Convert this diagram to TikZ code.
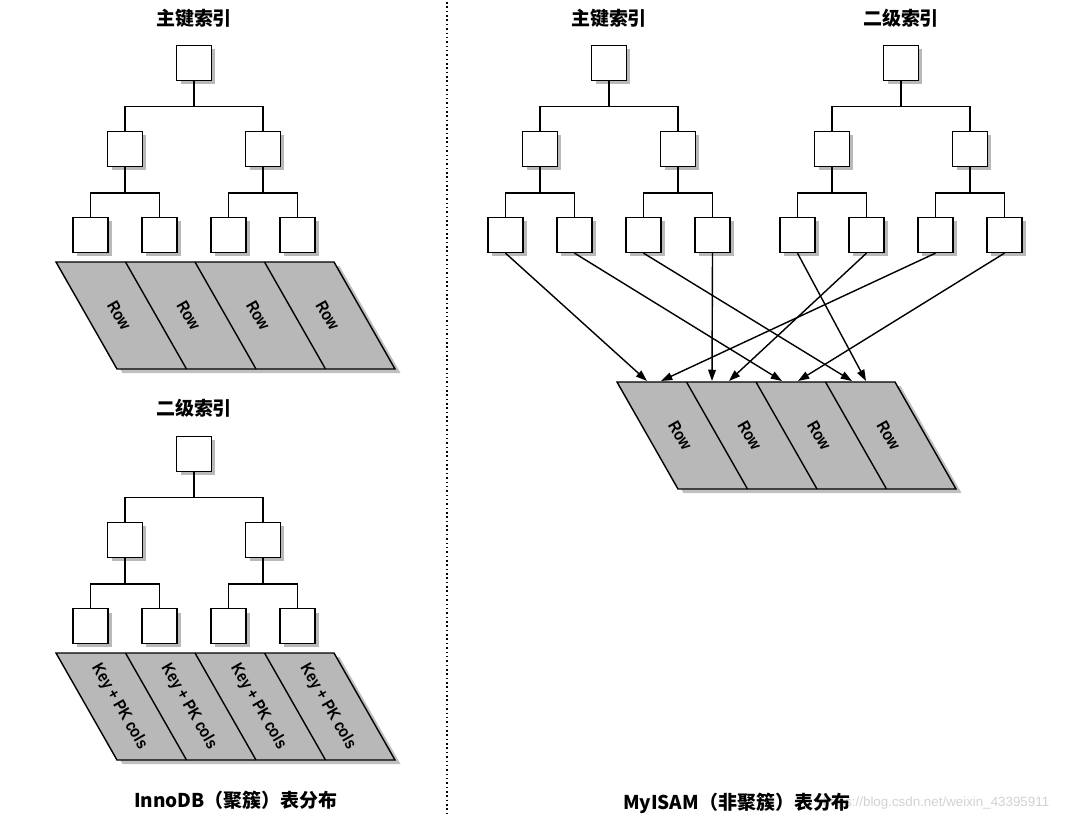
\documentclass[tikz,border=0pt]{standalone}
\usepackage{fontspec}
\usepackage{tikz}
\usetikzlibrary{arrows.meta,positioning,shadows}
\usepackage{xcolor}
\newfontfamily\cjk{Noto Sans CJK SC}
\newfontfamily\cellfont{Liberation Sans Bold}[FakeStretch=0.85]
\definecolor{cellgray}{gray}{0.72}

\begin{document}
\begin{tikzpicture}[x=0.025cm,y=-0.025cm,>={Triangle[length=8pt,width=5.5pt]},
  box/.style={draw,line width=1pt,fill=white,minimum size=24.8pt,inner sep=0pt,
    drop shadow={shadow xshift=2.8pt,shadow yshift=-2.8pt,fill=black!50,opacity=.55}},
  slab/.style={draw,line width=1pt,fill=cellgray,
    drop shadow={shadow xshift=4pt,shadow yshift=-3pt,fill=black!45,opacity=.55}},
  title/.style={font=\cjk\bfseries\fontsize{13.5}{16}\selectfont},
  caption/.style={font=\cjk\bfseries\fontsize{13.5}{16}\selectfont},
  cell/.style={font=\cellfont\fontsize{12}{14}\selectfont,rotate=-60,inner sep=0pt},
  link/.style={line width=1pt},
  ptr/.style={->,line width=1pt}]
  \useasboundingbox (0,0) rectangle (1080,819);

  % separator
  \draw[dotted,line width=1.1pt] (447,2) -- (447,817);

  % titles
  \node (ta) [title] at (194,18) {主键索引};
  \node (tb) [title] at (194,408) {二级索引};
  \node (tc) [title] at (609,18) {主键索引};
  \node (td) [title] at (901,18) {二级索引};

  % four B-trees, root at (\x,\y)
  \foreach \t/\x/\y in {a/194/63,b/194/454,c/609/63,d/901/63} {
    \node (\t) [box] at (\x,\y) {};
    \node (\t1) [box] at (\x-69,\y+86) {};
    \node (\t2) [box] at (\x+69,\y+86) {};
    \node (\t11) [box] at (\x-103.5,\y+172) {};
    \node (\t12) [box] at (\x-34.5,\y+172) {};
    \node (\t21) [box] at (\x+34.5,\y+172) {};
    \node (\t22) [box] at (\x+103.5,\y+172) {};
    \draw[link] (\t.south) -- ++(0,25.5) -| (\t1.north);
    \draw[link] (\t.south) -- ++(0,25.5) -| (\t2.north);
    \draw[link] (\t1.south) -- ++(0,26) -| (\t11.north);
    \draw[link] (\t1.south) -- ++(0,26) -| (\t12.north);
    \draw[link] (\t2.south) -- ++(0,26) -| (\t21.north);
    \draw[link] (\t2.south) -- ++(0,26) -| (\t22.north);
  }

  % leaf pages (top left corner at \x,\y)
  \foreach \s/\x/\y/\txt in {a/56/262/Row,b/56/653/Key + PK cols,e/617/382/Row} {
    \path[slab] (\x,\y) -- ++(278,0) -- ++(61,107) -- ++(-278,0) -- cycle;
    \foreach \i in {1,2,3}
      \draw[link] (\x+69.5*\i,\y) -- ++(61,107);
    \foreach \i in {1,...,4}
      \node (\s r\i) [cell] at (\x+69.5*\i-34.75+30.5-2,\y+53.5) {\txt};
  }

  % MyISAM pointers
  \coordinate (r1a) at (647,381);
  \coordinate (r1b) at (661,381);
  \coordinate (r2a) at (712,381);
  \coordinate (r2b) at (729,381);
  \coordinate (r3a) at (782,381);
  \coordinate (r3b) at (798,381);
  \coordinate (r4a) at (852,381);
  \coordinate (r4b) at (866,381);
  \draw[ptr] (c11.south) -- (r1a);
  \draw[ptr] (c12.south) -- (r3a);
  \draw[ptr] (c21.south) -- (r4a);
  \draw[ptr] (c22.south) -- (r2a);
  \draw[ptr] (d11.south) -- (r4b);
  \draw[ptr] (d12.south) -- (r2b);
  \draw[ptr] (d21.south) -- (r1b);
  \draw[ptr] (d22.south) -- (r3b);

  % captions
  \node (wm) [anchor=west,text=black!18,font=\fontspec{Liberation Sans}\fontsize{9.5}{11}\selectfont] at (818,803) {https://blog.csdn.net/weixin\_43395911};
  \node (capa) [caption] at (236,800) {InnoDB（聚簇）表分布};
  \node (capb) [caption] at (737,803) {MyISAM（非聚簇）表分布};
\end{tikzpicture}
\end{document}
